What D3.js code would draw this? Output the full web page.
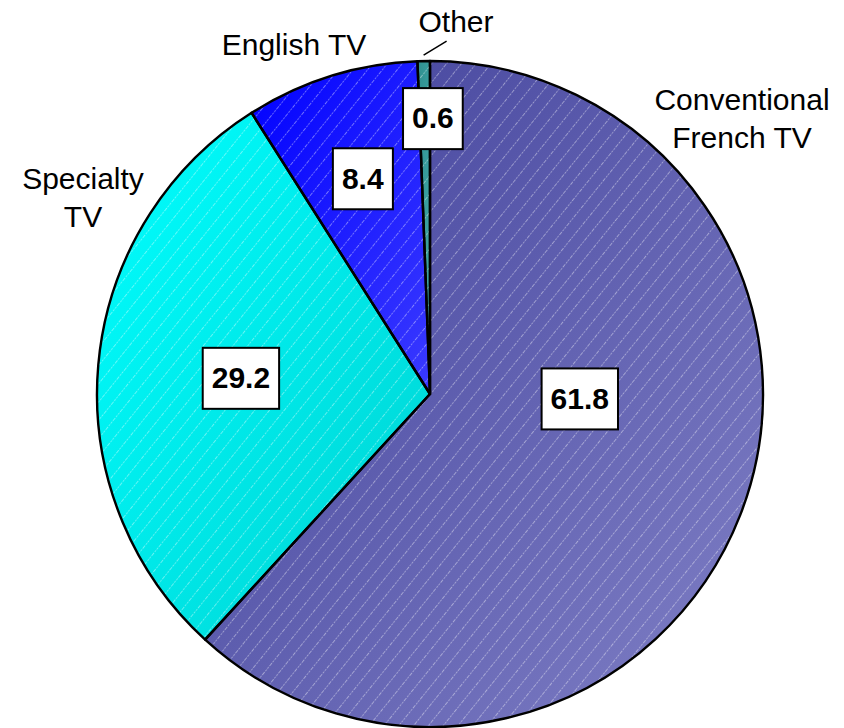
<!DOCTYPE html>
<html><head><meta charset="utf-8">
<script src="https://cdn.jsdelivr.net/npm/d3@7"></script>
<style>html,body{margin:0;padding:0;background:#fff;}svg{display:block;}</style>
</head><body>
<svg id="chart" width="844" height="728"></svg>
<script>
const categories = ["Conventional French TV", "Specialty TV", "English TV", "Other"];
const values = [61.8, 29.2, 8.4, 0.6];
const valueLabels = ["61.8", "29.2", "8.4", "0.6"];
const nameLines = [["Conventional", "French TV"], ["Specialty", "TV"], ["English TV"], ["Other"]];

// styling / layout (not data)
const gradStops = [["#40409a", "#8080c6"], ["#00ffff", "#00d2d2"], ["#0000ff", "#3a3aff"], ["#2f8f8f", "#40a8a8"]];
const valueLabelPos = [[0.45, 91.5], [0.57, null], [0.68, null], [0.83, 0.6]]; // [radius fraction, angle override]
const nameLabelPos = [[742, 110], [83, 189], [294, 55], [456, 32]];

const svg = d3.select("#chart");
const cx = 430, cy = 394, R = 333;

const defs = svg.append("defs");
gradStops.forEach((s, i) => {
  const g = defs.append("linearGradient").attr("id", "g" + i)
    .attr("x1", 0).attr("y1", 0).attr("x2", 1).attr("y2", 1);
  g.append("stop").attr("offset", "0%").attr("stop-color", s[0]);
  g.append("stop").attr("offset", "100%").attr("stop-color", s[1]);
});
const pat = defs.append("pattern").attr("id", "hatch")
  .attr("patternUnits", "userSpaceOnUse").attr("width", 11.5).attr("height", 11.5)
  .attr("patternTransform", "rotate(39)");
pat.append("line").attr("x1", 0.5).attr("y1", 0).attr("x2", 0.5).attr("y2", 11.5)
  .attr("stroke", "#fff").attr("stroke-opacity", 0.45).attr("stroke-width", 0.9)
  .attr("stroke-dasharray", "2,1.2");

const pie = d3.pie().sort(null).value(d => d)(values);
const arc = d3.arc().innerRadius(0).outerRadius(R);

const g = svg.append("g").attr("transform", `translate(${cx},${cy})`);
g.selectAll("path.fill").data(pie).join("path").attr("class", "fill")
  .attr("d", arc).attr("fill", (d, i) => `url(#g${i})`);
g.selectAll("path.hatch").data(pie).join("path").attr("class", "hatch")
  .attr("d", arc).attr("fill", "url(#hatch)")
  .attr("stroke", "#000").attr("stroke-width", 2.4).attr("stroke-linejoin", "round");

// value label boxes
pie.forEach((d, i) => {
  const [rf, ang] = valueLabelPos[i];
  const a = ang != null ? ang * Math.PI / 180 : (d.startAngle + d.endAngle) / 2;
  const x = Math.sin(a) * R * rf, y = -Math.cos(a) * R * rf;
  const lg = g.append("g").attr("transform", `translate(${x},${y})`);
  const t = lg.append("text").text(valueLabels[i])
    .attr("text-anchor", "middle").attr("dy", "0.36em")
    .attr("font-family", "Liberation Sans, Arial, sans-serif")
    .attr("font-weight", "bold").attr("font-size", 30).attr("fill", "#000");
  const bb = t.node().getBBox();
  const padX = 9, h = 61;
  lg.insert("rect", "text")
    .attr("x", bb.x - padX).attr("y", -h / 2 + 1)
    .attr("width", bb.width + 2 * padX).attr("height", h)
    .attr("fill", "#fff").attr("stroke", "#000").attr("stroke-width", 2);
});

// category name labels
nameLines.forEach((lines, i) => {
  const [x, y] = nameLabelPos[i];
  const t = svg.append("text").attr("x", x).attr("y", y)
    .attr("text-anchor", "middle")
    .attr("font-family", "Liberation Sans, Arial, sans-serif")
    .attr("font-size", 30).attr("fill", "#000");
  lines.forEach((l, j) => t.append("tspan").attr("x", x).attr("dy", j ? 38 : 0).text(l));
});

// leader line for "Other"
const o = pie[3];
const oa = (o.startAngle + o.endAngle) / 2;
const p0 = [cx + Math.sin(oa) * (R + 6), cy - Math.cos(oa) * (R + 6)];
svg.append("line")
  .attr("x1", p0[0]).attr("y1", p0[1]).attr("x2", p0[0] + 23).attr("y2", p0[1] - 14)
  .attr("stroke", "#000").attr("stroke-width", 1.5);
</script>
</body></html>
